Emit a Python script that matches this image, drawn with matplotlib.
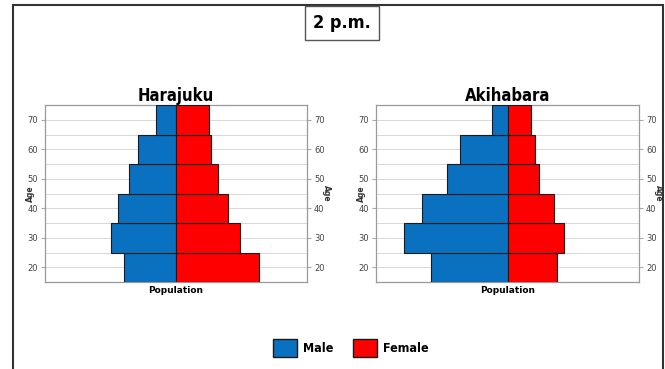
import numpy as np
import matplotlib.pyplot as plt
from matplotlib.patches import Rectangle

# age groups (bar centres) and population per side (relative units)
ages = [20, 30, 40, 50, 60, 70]

harajuku_male = [40, 50, 44, 36, 29, 15]
harajuku_female = [63, 49, 40, 32, 27, 25]

akihabara_male = [58, 79, 65, 46, 36, 12]
akihabara_female = [38, 43, 35, 24, 21, 18]

blue = "#0a70c0"
red = "#ff0000"
narrow = ["DejaVu Sans"]

fig = plt.figure(figsize=(6.65, 3.69), dpi=100)

# outer frame
fig.patches.append(Rectangle((13 / 665, -0.05), (663 - 13) / 665, 1 - 5 / 369 + 0.05,
                             transform=fig.transFigure, fill=False,
                             edgecolor="#333333", linewidth=1.5))

fig.text(342 / 665, 1 - 23 / 369, "2 p.m.", ha="center", va="center",
         fontsize=13, family=narrow, fontweight="bold", fontstretch="condensed",
         bbox=dict(boxstyle="square,pad=0.45", facecolor="white", edgecolor="#555555", linewidth=1))


def pyramid(ax, male, female, title):
    ax.barh(ages, [-m for m in male], height=10, color=blue, edgecolor="#1a1a1a", linewidth=0.8, zorder=3)
    ax.barh(ages, female, height=10, color=red, edgecolor="#1a1a1a", linewidth=0.8, zorder=3)
    ax.set_xlim(-100, 100)
    ax.set_ylim(15, 75)
    ax.set_xticks([])
    ax.set_yticks(ages)
    ax.set_yticks(np.arange(15, 76, 5), minor=True)
    ax.grid(axis="y", which="both", color="#d8d8d8", linewidth=0.7, zorder=0)
    ax.tick_params(axis="y", which="major", length=3, color="#aaaaaa", labelsize=6, labelcolor="#444444",
                   left=True, right=True, labelleft=True, labelright=True, pad=2)
    ax.tick_params(axis="y", which="minor", length=0)
    for s in ax.spines.values():
        s.set_color("#999999")
        s.set_linewidth(0.9)
    ax.set_title(title, fontsize=12, family=narrow, fontweight="bold", fontstretch="condensed", pad=2)
    ax.set_xlabel("Population", fontsize=6.5, family=narrow, fontweight="bold", labelpad=3)
    ax.text(-0.055, 0.5, "Age", transform=ax.transAxes, rotation=90, ha="center", va="center",
            fontsize=5.5, fontweight="bold", color="#333333")
    ax.text(1.075, 0.5, "Age", transform=ax.transAxes, rotation=-90, ha="center", va="center",
            fontsize=5.5, fontweight="bold", color="#333333")


ax1 = fig.add_axes([45 / 665, 1 - 282 / 369, 262 / 665, 177 / 369])
pyramid(ax1, harajuku_male, harajuku_female, "Harajuku")

ax2 = fig.add_axes([376 / 665, 1 - 282 / 369, 263 / 665, 177 / 369])
pyramid(ax2, akihabara_male, akihabara_female, "Akihabara")

# legend
handles = [Rectangle((0, 0), 1, 1, facecolor=blue, edgecolor="#1a1a1a"),
           Rectangle((0, 0), 1, 1, facecolor=red, edgecolor="#1a1a1a")]
fig.legend(handles, ["Male", "Female"], loc="center", bbox_to_anchor=(351 / 665, 1 - 348 / 369),
           ncol=2, frameon=False, prop=dict(family=narrow, weight="bold", size=9, stretch="condensed"),
           handlelength=1.9, handleheight=1.9, columnspacing=1.6, handletextpad=0.5)

fig.savefig("out.png", dpi=100)
